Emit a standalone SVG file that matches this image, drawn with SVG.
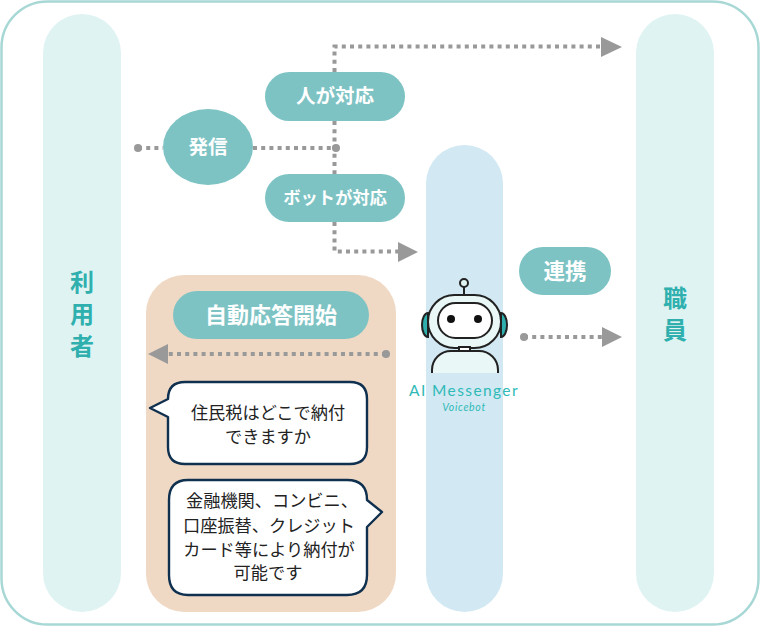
<svg xmlns="http://www.w3.org/2000/svg" width="760" height="627" viewBox="0 0 760 627">
<style>
text{font-family:"Noto Sans CJK JP","Noto Sans",sans-serif;text-anchor:middle}
.w{fill:#fff;font-weight:700;font-size:19.5px}
.b{fill:#222;font-size:17.2px}
.t{fill:#2fb0ae;font-weight:700;font-size:24px}
.pill{fill:#7dc3c4}
.c{fill:none;stroke:#999;stroke-width:4;stroke-dasharray:4 4.2}
.h{fill:#999}
.bub{fill:#fff;stroke:#10304f;stroke-width:2.4;stroke-linejoin:round}
.k{stroke:#222;stroke-width:2}
</style>
<rect x="1.5" y="1.5" width="757" height="623" rx="46" fill="#fff" stroke="#a8d8d6" stroke-width="2.5"/>
<g id="user"><rect x="43" y="14" width="78" height="598" rx="39" fill="#dff3f2"/>
<text class="t"><tspan x="82" y="291">利</tspan><tspan x="82" y="323">用</tspan><tspan x="82" y="355">者</tspan></text></g>
<g id="staff"><rect x="636" y="14" width="78" height="598" rx="39" fill="#dff3f2"/>
<text class="t"><tspan x="675" y="307">職</tspan><tspan x="675" y="339">員</tspan></text></g>
<g id="bot-lane"><rect x="426" y="145" width="77" height="467" rx="38.5" fill="#d2e9f3"/></g>
<g id="panel"><rect x="146" y="275" width="250" height="337" rx="38" fill="#f0d9c4"/></g>
<g id="connectors">
<path class="c" d="M138 148H163M253 148H336M334.500 72V46.500H602M334.500 121V174M334.500 222V251.500H398M524 337H602M386 354H168"/>
<circle class="h" cx="138" cy="148" r="4"/><circle class="h" cx="336" cy="148" r="4"/><circle class="h" cx="524" cy="337" r="4"/><circle class="h" cx="386" cy="354" r="4"/>
<path class="h" d="M601 37L622 47L601 57ZM398 242L418 252L398 262ZM602 327L622 337L602 347ZM168 344L148 354L168 364Z"/>
</g>
<g id="call"><ellipse class="pill" cx="208" cy="147" rx="45" ry="38"/><text class="w" x="208" y="154">発信</text></g>
<g id="human"><rect class="pill" x="265" y="72" width="140" height="49" rx="24.500"/><text class="w" x="335" y="103">人が対応</text></g>
<g id="botres"><rect class="pill" x="265" y="174" width="140" height="48" rx="24"/><text class="w" x="335" y="204" style="font-size:17.300px">ボットが対応</text></g>
<g id="link"><rect class="pill" x="519" y="247" width="92" height="48" rx="24"/><text class="w" x="565" y="279" style="font-size:21.500px">連携</text></g>
<g id="auto"><rect class="pill" x="173" y="291" width="196" height="48" rx="24"/><text class="w" x="271" y="323" style="font-size:22px">自動応答開始</text></g>
<g id="robot">
<path d="M428 313a6 12 0 0 0 0 24Z" fill="#2fb0ae" class="k"/>
<path d="M501 313a6 12 0 0 1 0 24Z" fill="#2fb0ae" class="k"/>
<line class="k" x1="464" y1="287" x2="464" y2="296"/><circle cx="464" cy="283" r="4" fill="#dff3f2" class="k"/>
<rect x="428" y="295" width="73" height="53" rx="26.500" fill="#eaf7f7" class="k"/>
<rect x="438" y="303" width="54" height="35" rx="17.500" fill="#fff" class="k"/>
<circle cx="451" cy="319" r="4" fill="#111"/><circle cx="478" cy="319" r="4" fill="#111"/>
<rect x="459" y="347" width="11" height="4" fill="#fff" class="k"/>
<path d="M432 373V370a19 19 0 0 1 19-19h28a19 19 0 0 1 19 19v3Z" fill="#eaf7f7"/>
<path d="M432 373V370a19 19 0 0 1 19-19h28a19 19 0 0 1 19 19v3" fill="none" class="k"/>
<text x="464" y="396" style="font-family:Lato,sans-serif;font-size:15.500px;letter-spacing:1.400px" fill="#2fb9b7">AI Messenger</text>
<text x="464" y="411" style="font-family:Lato,sans-serif;font-size:10.500px;font-style:italic;letter-spacing:.7px" fill="#2fb9b7">Voicebot</text>
</g>
<g id="q"><path class="bub" d="M185 382H350Q367 382 367 399V447Q367 464 350 464H185Q168 464 168 447V417L150 408L168 399Q168 382 185 382Z"/>
<text class="b" x="268" y="419">住民税はどこで納付</text><text class="b" x="268" y="443">できますか</text></g>
<g id="a"><path class="bub" d="M188 480H347Q367 480 367 500L382 512L367 527V575Q367 595 347 595H188Q169 595 169 575V500Q169 480 188 480Z"/>
<text class="b" x="272" y="507">金融機関、コンビニ、</text><text class="b" x="269" y="532">口座振替、クレジット</text><text class="b" x="269" y="556">カード等により納付が</text><text class="b" x="268" y="579">可能です</text></g>
</svg>
